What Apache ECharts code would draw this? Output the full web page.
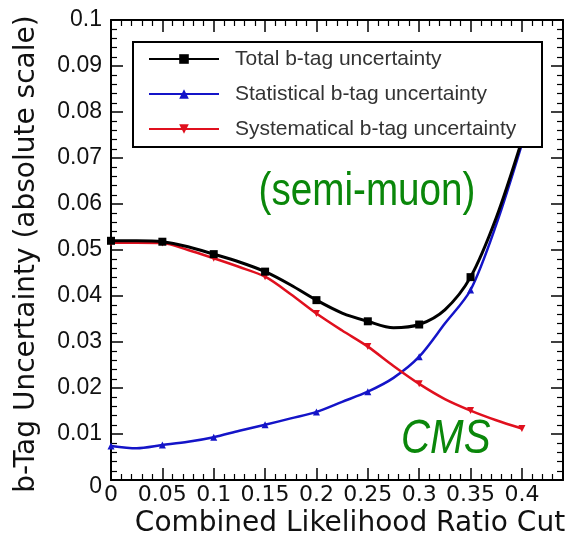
<!DOCTYPE html>
<html>
<head>
<meta charset="utf-8">
<script src="https://cdn.jsdelivr.net/npm/echarts@6/dist/echarts.min.js"></script>
<style>
  html, body { margin: 0; padding: 0; background: #fff; }
  #chart { width: 568px; height: 542px; }
</style>
</head>
<body>
<div id="chart"></div>
<script>
// Likelihood-ratio cut values and the b-tag uncertainties.
// Points on the 0.05 grid carry a marker; the in-between points only shape the curve.
const cuts = [0, 0.025, 0.05, 0.075, 0.1, 0.125, 0.15, 0.175, 0.2, 0.225, 0.25, 0.275, 0.3, 0.325, 0.35, 0.375, 0.4];
const totalUnc = [0.0520, 0.0520, 0.0518, 0.0507, 0.0491, 0.0474, 0.0453, 0.0424, 0.0391, 0.0363, 0.0345, 0.0331, 0.0338, 0.0370, 0.0441, 0.0570, 0.0738];
const statUnc  = [0.0074, 0.0069, 0.0076, 0.0083, 0.0093, 0.0107, 0.0120, 0.0134, 0.0148, 0.0170, 0.0192, 0.0222, 0.0268, 0.0340, 0.0413, 0.0555, 0.0730];
const systUnc  = [0.0516, 0.0516, 0.0515, 0.0500, 0.0482, 0.0463, 0.0442, 0.0404, 0.0362, 0.0325, 0.0290, 0.0248, 0.0209, 0.0176, 0.0151, 0.0130, 0.0112];
const markerStep = 0.05;

const seriesNames = ['Total b-tag uncertainty', 'Statistical b-tag uncertainty', 'Systematical b-tag uncertainty'];
const xTitle = 'Combined Likelihood Ratio Cut';
const yTitle = 'b-Tag Uncertainty (absolute scale)';
const channelLabel = '(semi-muon)';
const expLabel = 'CMS';

// Build [x, y] points; points off the marker grid get no symbol
const pairs = ys => cuts.map((x, i) => {
  const onGrid = Math.abs(x / markerStep - Math.round(x / markerStep)) < 1e-6;
  return onGrid ? { value: [x, ys[i]] } : { value: [x, ys[i]], symbol: 'none' };
});

const frameAxis = {
  axisLine: { show: true, onZero: false, lineStyle: { color: '#000', width: 2 } },
  axisTick: { show: true, inside: true, length: 12, lineStyle: { color: '#000', width: 1.5 } },
  minorTick: { show: true, splitNumber: 5, length: 6, lineStyle: { color: '#000', width: 1.2 } },
  splitLine: { show: false },
  minorSplitLine: { show: false }
};

const chart = echarts.init(document.getElementById('chart'), null, { renderer: 'canvas' });

chart.setOption({
  animation: false,
  backgroundColor: '#fff',
  grid: { left: 111, right: 5, top: 20, bottom: 62, containLabel: false },
  xAxis: [
    Object.assign({}, frameAxis, {
      type: 'value', position: 'bottom', min: 0, max: 0.44, interval: 0.05,
      axisLabel: {
        show: true, showMaxLabel: false, margin: 4,
        fontFamily: 'DejaVu Sans', fontSize: 22, color: '#111'
      }
    }),
    Object.assign({}, frameAxis, {
      type: 'value', position: 'top', min: 0, max: 0.44, interval: 0.05,
      axisLabel: { show: false }
    })
  ],
  yAxis: [
    Object.assign({}, frameAxis, {
      type: 'value', position: 'left', min: 0, max: 0.1, interval: 0.01,
      axisLabel: {
        show: true, margin: 9,
        fontFamily: 'Liberation Sans', fontSize: 23, color: '#111',
        formatter: v => (v === 0 ? '{z|0}' : String(+v.toFixed(3))),
        rich: { z: { fontFamily: 'Liberation Sans', fontSize: 23, color: '#111', padding: [14, 0, 0, 0] } }
      }
    }),
    Object.assign({}, frameAxis, {
      type: 'value', position: 'right', min: 0, max: 0.1, interval: 0.01,
      axisLabel: { show: false }
    })
  ],
  legend: {
    orient: 'vertical',
    left: 148, top: 48,
    padding: 0,
    itemGap: 13,
    itemWidth: 70, itemHeight: 12,
    z: 10,
    data: seriesNames,
    textStyle: {
      fontFamily: 'Liberation Sans', fontSize: 21, color: '#333',
      lineHeight: 22, padding: [0, 0, 0, 11]
    }
  },
  graphic: [
    {
      type: 'rect', z: 5, silent: true,
      shape: { x: 133, y: 42, width: 409, height: 105 },
      style: { fill: '#fff', stroke: '#000', lineWidth: 2 }
    },
    {
      type: 'text', z: 6, silent: true,
      x: 367, y: 192, scaleX: 0.84,
      style: {
        text: channelLabel, fill: '#0a870a',
        font: '46px "Liberation Sans", sans-serif',
        align: 'center', verticalAlign: 'middle'
      }
    },
    {
      type: 'text', z: 6, silent: true,
      x: 401, y: 440, scaleX: 0.84,
      style: {
        text: expLabel, fill: '#0a870a',
        font: 'italic 48px "Liberation Sans", sans-serif',
        align: 'left', verticalAlign: 'middle'
      }
    },
    {
      type: 'text', z: 6, silent: true,
      x: 350, y: 524,
      style: {
        text: xTitle, fill: '#111',
        font: '28px "DejaVu Sans"',
        align: 'center', verticalAlign: 'middle'
      }
    },
    {
      type: 'text', z: 6, silent: true,
      x: 27, y: 254, rotation: Math.PI / 2,
      style: {
        text: yTitle, fill: '#111',
        font: '28px "DejaVu Sans"',
        align: 'center', verticalAlign: 'middle'
      }
    }
  ],
  series: [
    {
      name: seriesNames[0], type: 'line', data: pairs(totalUnc),
      smooth: 0.3, symbol: 'rect', symbolSize: 8, z: 3,
      itemStyle: { color: '#000' },
      lineStyle: { color: '#000', width: 3 }
    },
    {
      name: seriesNames[1], type: 'line', data: pairs(statUnc),
      smooth: 0.3, symbol: 'triangle', symbolSize: 7, z: 2,
      itemStyle: { color: '#1414c8' },
      lineStyle: { color: '#1414c8', width: 2.5 }
    },
    {
      name: seriesNames[2], type: 'line', data: pairs(systUnc),
      smooth: 0.3, symbol: 'triangle', symbolRotate: 180, symbolSize: 7, z: 2,
      itemStyle: { color: '#e0101e' },
      lineStyle: { color: '#e0101e', width: 2.5 }
    }
  ]
});
</script>
</body>
</html>
